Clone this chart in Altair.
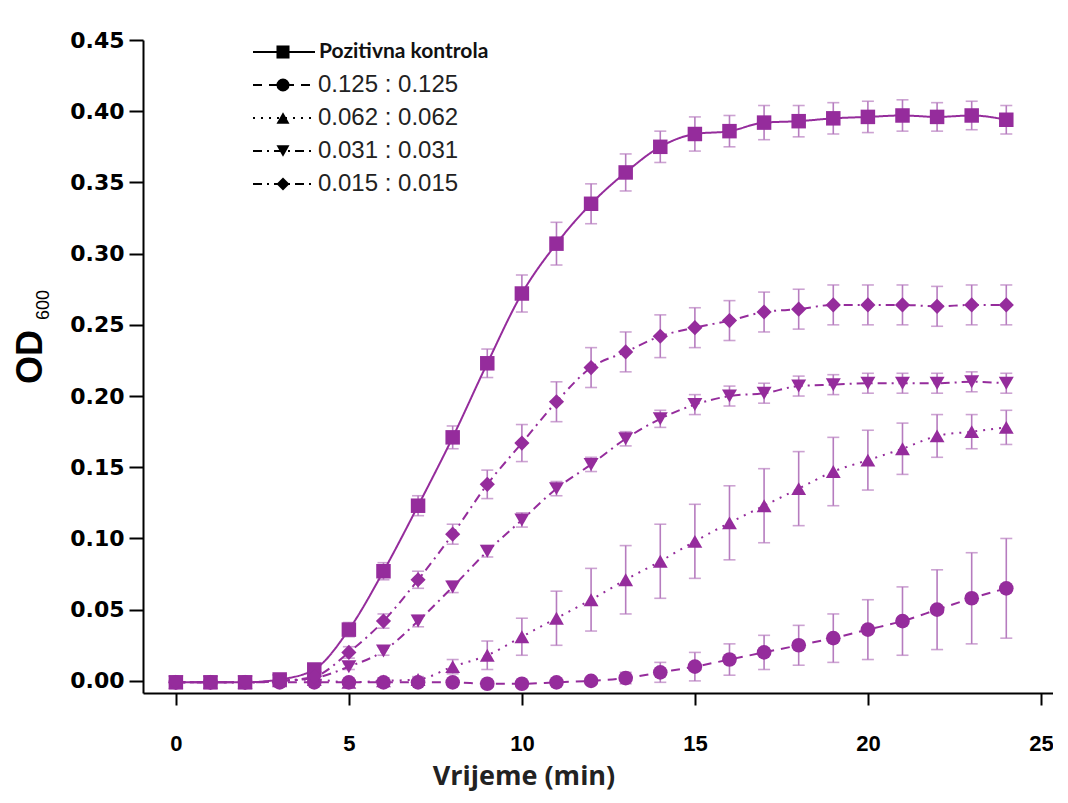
import altair as alt
import pandas as pd

# ---------------- data ----------------
time_min = list(range(25))
series_names = ["Pozitivna kontrola", "0.125 : 0.125", "0.062 : 0.062",
                "0.031 : 0.031", "0.015 : 0.015"]

pos_vals = [-0.001, -0.001, -0.001, 0.001, 0.008, 0.036, 0.077, 0.123, 0.171, 0.223,
            0.272, 0.307, 0.335, 0.357, 0.375, 0.384, 0.386, 0.392, 0.393, 0.395,
            0.396, 0.397, 0.396, 0.397, 0.394]
pos_err = [0.002, 0.002, 0.002, 0.002, 0.004, 0.005, 0.006, 0.007, 0.008, 0.010,
           0.013, 0.015, 0.014, 0.013, 0.011, 0.012, 0.011, 0.012, 0.011, 0.011,
           0.011, 0.011, 0.010, 0.010, 0.010]

c125_vals = [-0.001, -0.001, -0.001, -0.001, -0.001, -0.001, -0.001, -0.001, -0.001, -0.002,
             -0.002, -0.001, 0.000, 0.002, 0.006, 0.010, 0.015, 0.020, 0.025, 0.030,
             0.036, 0.042, 0.050, 0.058, 0.065]
c125_err = [0.002, 0.002, 0.002, 0.002, 0.002, 0.002, 0.002, 0.002, 0.002, 0.002,
            0.002, 0.002, 0.002, 0.004, 0.007, 0.010, 0.011, 0.012, 0.014, 0.017,
            0.021, 0.024, 0.028, 0.032, 0.035]

c062_vals = [-0.001, -0.001, -0.001, 0.000, 0.001, -0.001, 0.000, 0.001, 0.010, 0.018,
             0.031, 0.044, 0.057, 0.071, 0.084, 0.098, 0.111, 0.123, 0.135, 0.147,
             0.155, 0.163, 0.172, 0.175, 0.178]
c062_err = [0.002, 0.002, 0.002, 0.002, 0.002, 0.002, 0.002, 0.002, 0.005, 0.010,
            0.013, 0.019, 0.022, 0.024, 0.026, 0.026, 0.026, 0.026, 0.026, 0.024,
            0.021, 0.018, 0.015, 0.012, 0.012]

c031_vals = [-0.001, -0.001, -0.001, 0.000, 0.002, 0.010, 0.021, 0.042, 0.066, 0.091,
             0.113, 0.135, 0.152, 0.170, 0.184, 0.194, 0.200, 0.202, 0.207, 0.208,
             0.209, 0.209, 0.209, 0.210, 0.209]
c031_err = [0.002, 0.002, 0.002, 0.002, 0.002, 0.002, 0.003, 0.004, 0.004, 0.004,
            0.005, 0.005, 0.005, 0.005, 0.006, 0.007, 0.007, 0.007, 0.007, 0.007,
            0.007, 0.007, 0.007, 0.007, 0.007]

c015_vals = [-0.001, -0.001, -0.001, 0.000, 0.003, 0.020, 0.042, 0.071, 0.103, 0.138,
             0.167, 0.196, 0.220, 0.231, 0.242, 0.248, 0.253, 0.259, 0.261, 0.264,
             0.264, 0.264, 0.263, 0.264, 0.264]
c015_err = [0.002, 0.002, 0.002, 0.002, 0.002, 0.004, 0.005, 0.006, 0.007, 0.010,
            0.013, 0.014, 0.014, 0.014, 0.015, 0.014, 0.014, 0.014, 0.014, 0.014,
            0.014, 0.014, 0.014, 0.014, 0.014]

x_ticks = [0, 5, 10, 15, 20, 25]
y_ticks = [0.00, 0.05, 0.10, 0.15, 0.20, 0.25, 0.30, 0.35, 0.40, 0.45]

# ---------------- build table ----------------
all_vals = [pos_vals, c125_vals, c062_vals, c031_vals, c015_vals]
all_errs = [pos_err, c125_err, c062_err, c031_err, c015_err]
rows = []
for name, vals, errs in zip(series_names, all_vals, all_errs):
    for t, v, e in zip(time_min, vals, errs):
        rows.append({"series": name, "t": t, "v": v, "lo": v - e, "hi": v + e})
df = pd.DataFrame(rows)

legend_df = pd.DataFrame({"series": series_names, "i": list(range(len(series_names)))})

PURPLE = "#952c9c"
ERR = "#b67cbf"

dash_scale = alt.Scale(domain=series_names,
                       range=[[1, 0], [9, 7], [2, 6], [9, 5, 2, 5], [9, 5, 2, 5]])
shape_scale = alt.Scale(domain=series_names,
                        range=["square", "circle", "triangle-up", "triangle-down", "diamond"])
size_scale = alt.Scale(domain=series_names, range=[210, 230, 290, 290, 380])

x_scale = alt.Scale(domain=[-0.95, 25.35], nice=False, zero=False)
y_scale = alt.Scale(domain=[-0.0085, 0.45], nice=False, zero=False)

x_axis = alt.Axis(values=x_ticks, format="d", title=None, grid=False,
                  labelFont="Liberation Sans Narrow, Liberation Sans", labelFontSize=22,
                  labelFontWeight="bold", labelColor="black", labelPadding=28,
                  tickSize=12, tickWidth=2, tickColor="black",
                  domainColor="black", domainWidth=2)
y_axis = alt.Axis(values=y_ticks, format=".2f", title=None, grid=False,
                  labelFont="DejaVu Sans", labelFontSize=22,
                  labelFontWeight="bold", labelColor="black", labelPadding=5,
                  tickSize=14, tickWidth=2, tickColor="black",
                  domainColor="black", domainWidth=2)

X = alt.X("t:Q", scale=x_scale, axis=x_axis)

base = alt.Chart(df)

err_rule = base.mark_rule(color=ERR, strokeWidth=1.6).encode(
    x=X, y=alt.Y("lo:Q", scale=y_scale, axis=y_axis), y2="hi:Q")
err_lo = base.mark_tick(color=ERR, orient="horizontal", size=12, thickness=1.6).encode(
    x=X, y=alt.Y("lo:Q", scale=y_scale, axis=y_axis))
err_hi = base.mark_tick(color=ERR, orient="horizontal", size=12, thickness=1.6).encode(
    x=X, y=alt.Y("hi:Q", scale=y_scale, axis=y_axis))

lines = base.mark_line(color=PURPLE, strokeWidth=2, interpolate="monotone").encode(
    x=X, y=alt.Y("v:Q", scale=y_scale, axis=y_axis),
    detail="series:N",
    strokeDash=alt.StrokeDash("series:N", scale=dash_scale, legend=None))

points = base.mark_point(filled=True, opacity=1, color=PURPLE).encode(
    x=X, y=alt.Y("v:Q", scale=y_scale, axis=y_axis),
    shape=alt.Shape("series:N", scale=shape_scale, legend=None),
    size=alt.Size("series:N", scale=size_scale, legend=None))

# ---------------- legend (drawn manually, black) ----------------
leg = alt.Chart(legend_df).transform_calculate(ly="12 + datum.i * 33")
leg_line = leg.mark_rule(color="black", strokeWidth=2).encode(
    x=alt.value(110), x2=alt.value(172),
    y=alt.Y("ly:Q", scale=None, axis=None),
    strokeDash=alt.StrokeDash("series:N", scale=dash_scale, legend=None))
leg_pts = leg.mark_point(filled=True, opacity=1, color="black").encode(
    x=alt.value(140),
    y=alt.Y("ly:Q", scale=None, axis=None),
    shape=alt.Shape("series:N", scale=shape_scale, legend=None),
    size=alt.value(170))
leg_txt_first = leg.transform_filter("datum.i == 0").mark_text(
    align="left", baseline="middle", font="Lato", fontWeight="bold",
    fontSize=21, color="#111").encode(
    x=alt.value(176), y=alt.Y("ly:Q", scale=None, axis=None), text="series:N")
leg_txt_rest = leg.transform_filter("datum.i > 0").mark_text(
    align="left", baseline="middle", font="Liberation Sans",
    fontSize=24, color="#222").encode(
    x=alt.value(175), y=alt.Y("ly:Q", scale=None, axis=None), text="series:N")

# ---------------- axis titles ----------------
title_df = pd.DataFrame({"k": [0]})
x_title = alt.Chart(title_df).mark_text(
    text="Vrijeme (min)", font="Open Sans", fontWeight="bold", fontSize=27,
    color="#222", align="center", baseline="middle").encode(
    x=alt.value(381), y=alt.value(737))
y_title = alt.Chart(title_df).mark_text(
    text="OD", font="Liberation Sans", fontWeight="bold", fontSize=36,
    color="black", angle=270, align="center", baseline="middle").encode(
    x=alt.value(-112), y=alt.value(317))
y_sub = alt.Chart(title_df).mark_text(
    text="600", font="Liberation Sans", fontSize=18,
    color="black", angle=270, align="center", baseline="middle").encode(
    x=alt.value(-99), y=alt.value(265))

chart = alt.layer(
    err_rule, err_lo, err_hi, lines, points,
    leg_line, leg_pts, leg_txt_first, leg_txt_rest,
    x_title, y_title, y_sub
).properties(
    width=910, height=653,
    padding={"left": 135, "top": 32, "right": 0, "bottom": 108},
    autosize=alt.AutoSizeParams(type="none"),
    background="white"
).configure_view(stroke=None)

chart.save("out.html", embed_options={"renderer": "svg", "actions": False})
